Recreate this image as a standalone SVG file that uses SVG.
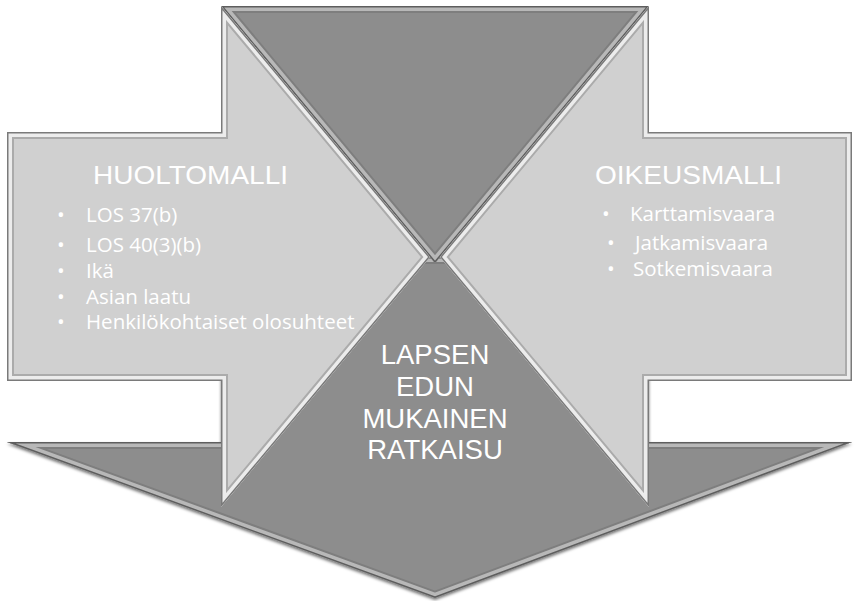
<svg xmlns="http://www.w3.org/2000/svg" xmlns:xlink="http://www.w3.org/1999/xlink" width="855" height="601" viewBox="0 0 855 601">
  <defs>
    <polygon id="p-bottom" points="221,257 649,257 649,442 852,442 435,598 7,442 221,442"/>
    <polygon id="p-top" points="221,6 649,6 435,263"/>
    <polygon id="p-left" points="7,132 221,132 221,6 430,257 221,507 221,381 7,381"/>
    <polygon id="p-right" points="852,132 649,132 649,6 440,257 649,507 649,381 852,381"/>
    <clipPath id="c-bottom"><use href="#p-bottom"/></clipPath>
    <clipPath id="c-top"><use href="#p-top"/></clipPath>
    <clipPath id="c-left"><use href="#p-left"/></clipPath>
    <clipPath id="c-right"><use href="#p-right"/></clipPath>
    <filter id="shadow" x="-5%" y="-5%" width="110%" height="115%">
      <feDropShadow dx="0" dy="2" stdDeviation="1.8" flood-color="#000" flood-opacity="0.55"/>
    </filter>
  </defs>
  <style>
    .light { fill: #d0d0d0; }
    .dark { fill: #8d8d8d; }
    .l-mid { fill: none; stroke: #ababab; stroke-width: 14; }
    .l-hi { fill: none; stroke: #ececec; stroke-width: 10; }
    .l-edge { fill: none; stroke: #7a7a7a; stroke-width: 3; }
    .d-mid { fill: none; stroke: #7e7e7e; stroke-width: 14; }
    .d-hi { fill: none; stroke: #b8b8b8; stroke-width: 10; }
    .d-edge { fill: none; stroke: #5e5e5e; stroke-width: 3; }
    .title { font-family: "Liberation Sans", Arial, sans-serif; font-size: 25.6px; fill: #ffffff; }
    .item { font-family: "Open Sans", "Noto Sans", sans-serif; font-size: 20.5px; fill: #ffffff; }
    .center { font-family: "Liberation Sans", Arial, sans-serif; font-size: 27.5px; fill: #ffffff; text-anchor: middle; }
  </style>

  <g id="connectors"></g>

  <g id="node-bottom-arrow">
    <use href="#p-bottom" class="dark" filter="url(#shadow)"/>
    <g clip-path="url(#c-bottom)">
      <use href="#p-bottom" class="d-mid"/>
      <use href="#p-bottom" class="d-hi"/>
      <use href="#p-bottom" class="d-edge"/>
    </g>
  </g>

  <g id="node-top-triangle">
    <use href="#p-top" class="dark"/>
    <g clip-path="url(#c-top)">
      <use href="#p-top" class="d-mid"/>
      <use href="#p-top" class="d-hi"/>
      <use href="#p-top" class="d-edge"/>
    </g>
  </g>

  <g id="node-huoltomalli">
    <use href="#p-left" class="light"/>
    <g clip-path="url(#c-left)">
      <use href="#p-left" class="l-mid"/>
      <use href="#p-left" class="l-hi"/>
      <use href="#p-left" class="l-edge"/>
    </g>
    <text class="title" x="93" y="184" textLength="195" lengthAdjust="spacingAndGlyphs">HUOLTOMALLI</text>
    <text class="item" x="57" y="222">•</text>
    <text class="item" x="86" y="222">LOS 37(b)</text>
    <text class="item" x="57" y="252">•</text>
    <text class="item" x="86" y="252">LOS 40(3)(b)</text>
    <text class="item" x="57" y="278">•</text>
    <text class="item" x="86" y="278">Ikä</text>
    <text class="item" x="57" y="304">•</text>
    <text class="item" x="86" y="304">Asian laatu</text>
    <text class="item" x="57" y="329">•</text>
    <text class="item" x="86" y="329">Henkilökohtaiset olosuhteet</text>
  </g>

  <g id="node-oikeusmalli">
    <use href="#p-right" class="light"/>
    <g clip-path="url(#c-right)">
      <use href="#p-right" class="l-mid"/>
      <use href="#p-right" class="l-hi"/>
      <use href="#p-right" class="l-edge"/>
    </g>
    <text class="title" x="595" y="184" textLength="187" lengthAdjust="spacingAndGlyphs">OIKEUSMALLI</text>
    <text class="item" x="602" y="221">•</text>
    <text class="item" x="630" y="221">Karttamisvaara</text>
    <text class="item" x="607" y="250">•</text>
    <text class="item" x="635" y="250">Jatkamisvaara</text>
    <text class="item" x="607" y="276">•</text>
    <text class="item" x="633" y="276">Sotkemisvaara</text>
  </g>

  <g id="node-ratkaisu">
    <text class="center" x="435" y="364">LAPSEN</text>
    <text class="center" x="435" y="396">EDUN</text>
    <text class="center" x="435" y="428">MUKAINEN</text>
    <text class="center" x="435" y="459">RATKAISU</text>
  </g>
</svg>
